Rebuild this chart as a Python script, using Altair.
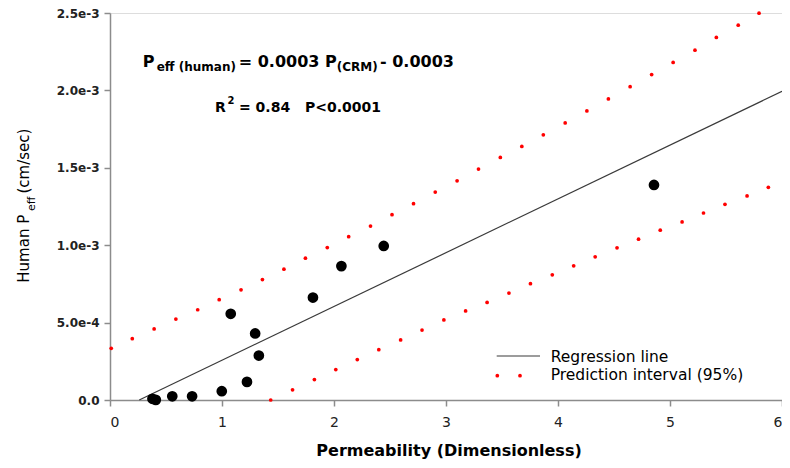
import altair as alt
import pandas as pd

FONT = "DejaVu Sans"

# Observed points: CRM permeability (dimensionless) vs human Peff (cm/sec)
crm_perm = [0.379, 0.409, 0.556, 0.733, 0.998, 1.223, 1.329, 1.296, 1.078, 1.812, 2.066, 2.444, 4.857]
human_peff = [8e-6, 1e-6, 2.4e-5, 2.4e-5, 5.7e-5, 1.17e-4, 2.87e-4, 4.30e-4, 5.57e-4, 6.62e-4, 8.65e-4, 9.95e-4, 1.389e-3]

# Regression line end points
fit_x = [0.261, 6.0]
fit_y = [0.0, 1.994e-3]

# 95% prediction interval (dotted), upper band
upper_x = [0.011, 0.199, 0.394, 0.588, 0.783, 0.975, 1.170, 1.361, 1.553, 1.745, 1.940, 2.131,
           2.326, 2.518, 2.710, 2.904, 3.099, 3.290, 3.485, 3.677, 3.869, 4.064, 4.258, 4.450,
           4.644, 4.836, 5.028, 5.223, 5.414, 5.609, 5.795]
upper_y = [0.334e-3, 0.396e-3, 0.459e-3, 0.523e-3, 0.583e-3, 0.648e-3, 0.712e-3, 0.778e-3,
           0.845e-3, 0.916e-3, 0.985e-3, 1.055e-3, 1.124e-3, 1.197e-3, 1.268e-3, 1.343e-3,
           1.416e-3, 1.492e-3, 1.567e-3, 1.638e-3, 1.713e-3, 1.790e-3, 1.867e-3, 1.945e-3,
           2.024e-3, 2.102e-3, 2.181e-3, 2.260e-3, 2.342e-3, 2.421e-3, 2.499e-3]

# lower band
lower_x = [1.435, 1.630, 1.825, 2.016, 2.208, 2.400, 2.595, 2.786, 2.981, 3.175, 3.367, 3.562,
           3.754, 3.949, 4.140, 4.332, 4.527, 4.719, 4.913, 5.108, 5.299, 5.491, 5.688, 5.878]
lower_y = [0.0, 0.066e-3, 0.132e-3, 0.197e-3, 0.261e-3, 0.325e-3, 0.388e-3, 0.452e-3, 0.517e-3,
           0.575e-3, 0.630e-3, 0.691e-3, 0.751e-3, 0.809e-3, 0.867e-3, 0.925e-3, 0.983e-3,
           1.039e-3, 1.097e-3, 1.150e-3, 1.208e-3, 1.264e-3, 1.318e-3, 1.374e-3]

x_ticks = [0, 1, 2, 3, 4, 5, 6]
y_ticks = [0, 0.0005, 0.001, 0.0015, 0.002, 0.0025]

AXCOL = "#8c8c8c"
xscale = alt.Scale(domain=[0, 6], nice=False, zero=False)
yscale = alt.Scale(domain=[0, 0.0025], nice=False, zero=False)

obs = pd.DataFrame({"x": crm_perm, "y": human_peff})
fit = pd.DataFrame({"x": fit_x, "y": fit_y})
band = pd.concat([
    pd.DataFrame({"x": upper_x, "y": upper_y}),
    pd.DataFrame({"x": lower_x, "y": lower_y}),
])
one = pd.DataFrame({"d": [0]})

xaxis = alt.Axis(values=x_ticks, title=None, grid=False, domainColor=AXCOL, domainWidth=1.5,
                 tickColor=AXCOL, tickWidth=1.5, tickSize=6, labelFont=FONT, labelFontSize=14,
                 labelColor="#222222", labelPadding=9, format="d")
yaxis = alt.Axis(values=y_ticks, title=None, grid=False, domainColor=AXCOL, domainWidth=1.5,
                 tickColor=AXCOL, tickWidth=1.5, tickSize=6, labelFont=FONT, labelFontSize=12,
                 labelFontWeight="bold", labelColor="#222222", labelPadding=5,
                 labelExpr="datum.value == 0 ? '0.0' : format(datum.value, '.1e')")

X = alt.X("x:Q", scale=xscale, axis=xaxis)
Y = alt.Y("y:Q", scale=yscale, axis=yaxis)

fit_layer = alt.Chart(fit).mark_line(color="#3a3a3a", strokeWidth=1.2).encode(x=X, y=Y)
band_layer = alt.Chart(band).mark_circle(color="#ff0000", size=14, opacity=1).encode(x=X, y=Y)
obs_layer = alt.Chart(obs).mark_circle(color="black", size=115, opacity=1).encode(x=X, y=Y)

# text positions are relative to the plot area's top-left corner (y offset 1 px vs. before)
DY = -1


def txt(s, x, y, size, weight="bold", angle=0, align="left"):
    return alt.Chart(one).mark_text(
        text=s, font=FONT, fontSize=size, fontWeight=weight, align=align,
        baseline="alphabetic", angle=angle, color="black",
    ).encode(x=alt.value(x), y=alt.value(y + DY))


texts = [
    # equation
    txt("P", 32.7, 54.7, 16),
    txt("eff (human)", 46.7, 58.7, 12),
    txt("= 0.0003 P", 128.7, 54.7, 16),
    txt("(CRM)", 226.7, 58.7, 12),
    txt("- 0.0003", 270, 54.7, 16),
    # R2 line
    txt("R", 105, 99.7, 14),
    txt("2", 117.5, 92, 10),
    txt("= 0.84", 129, 99.7, 14),
    txt("P<0.0001", 195, 99.7, 14),
    # y title
    txt("Human P", -81, 270.7, 15, weight="normal", angle=270),
    txt("eff", -75, 199, 11, weight="normal", angle=270),
    txt("(cm/sec)", -81, 181.5, 15, weight="normal", angle=270),
    # x title
    txt("Permeability (Dimensionless)", 339, 444, 16, align="center"),
    # legend
    txt("Regression line", 440.7, 349.7, 15.5, weight="normal"),
    txt("Prediction interval (95%)", 440.7, 368, 15.5, weight="normal"),
]

legend_line = alt.Chart(one).mark_rule(color="#3a3a3a", strokeWidth=1.2).encode(
    x=alt.value(386.7), x2=alt.value(430), y=alt.value(343)
)
legend_dots = alt.Chart(pd.DataFrame({"px": [387.3, 410]})).mark_circle(
    color="#ff0000", size=14, opacity=1
).encode(x=alt.X("px:Q", scale=None, axis=None), y=alt.value(362.7))

chart = alt.layer(fit_layer, band_layer, obs_layer, legend_line, legend_dots, *texts).properties(
    width=672, height=387,
    padding={"left": 102, "top": 5, "right": 0, "bottom": 62},
    autosize=alt.AutoSizeParams(type="none"),
).configure_view(stroke=AXCOL, strokeWidth=1.5).configure(background="white")

chart.save("out.html", embed_options={"renderer": "svg", "actions": False})
